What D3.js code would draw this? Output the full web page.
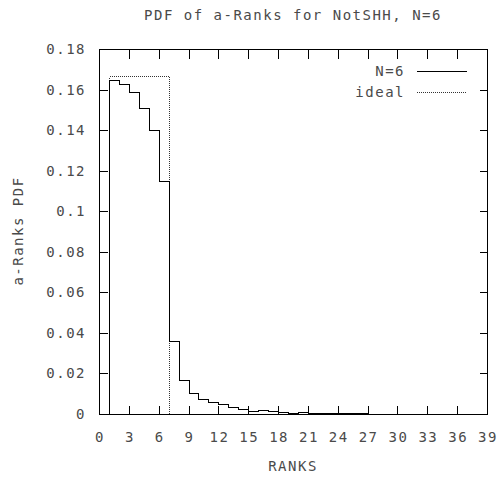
<!DOCTYPE html>
<html>
<head>
<meta charset="utf-8">
<script src="https://cdn.jsdelivr.net/npm/d3@7"></script>
<style>
  html, body { margin: 0; padding: 0; background: #fff; }
  svg text { font-family: "DejaVu Sans Mono", monospace; font-size: 14px; letter-spacing: 1.5px; fill: #4a4a4a; }
</style>
</head>
<body>
<svg id="chart" width="502" height="480"></svg>
<script>
// Rank bins (left edge of each unit-wide step) and their probabilities
const ranks = [1, 2, 3, 4, 5, 6, 7, 8, 9, 10, 11, 12, 13, 14, 15, 16, 17, 18, 19, 20, 21, 22, 23, 24, 25, 26];
const pdf = [0.1647, 0.1626, 0.1589, 0.1508, 0.1401, 0.1151, 0.0362, 0.0169, 0.0102, 0.0075,
             0.0060, 0.0047, 0.0036, 0.0025, 0.0015, 0.0020, 0.0015, 0.0009, 0.0006, 0.0011,
             0.0007, 0.0005, 0.0005, 0.0005, 0.0005, 0.0005];
// Ideal distribution: uniform over ranks 1..6
const idealRanks = [1, 2, 3, 4, 5, 6];
const idealPdf = [1 / 6, 1 / 6, 1 / 6, 1 / 6, 1 / 6, 1 / 6];

const xTicks = [0, 3, 6, 9, 12, 15, 18, 21, 24, 27, 30, 33, 36, 39];
const yTicks = [0, 0.02, 0.04, 0.06, 0.08, 0.1, 0.12, 0.14, 0.16, 0.18];
const yTickLabels = ["0", "0.02", "0.04", "0.06", "0.08", "0.1", "0.12", "0.14", "0.16", "0.18"];

const title = "PDF of a-Ranks for NotSHH, N=6";
const xTitle = "RANKS";
const yTitle = "a-Ranks PDF";
const seriesNames = ["N=6", "ideal"];

const svg = d3.select("#chart");
const plotLeft = 99, plotRight = 487, plotTop = 49, plotBottom = 414;

const x = d3.scaleLinear().domain([0, 39]).range([plotLeft, plotRight]);
const y = d3.scaleLinear().domain([0, 0.18]).range([plotBottom, plotTop]);
const px = v => Math.round(v) + 0.5;

// step outline: rises at the first bin, runs across each unit bin, drops at the end
function stepPoints(xs, vs) {
  const pts = [[xs[0], 0]];
  xs.forEach((r, i) => { pts.push([r, vs[i]]); pts.push([r + 1, vs[i]]); });
  pts.push([xs[xs.length - 1] + 1, 0]);
  return pts;
}
const line = d3.line().x(d => px(x(d[0]))).y(d => px(y(d[1])));

// ticks (inward, mirrored on opposite sides)
const g = svg.append("g").attr("stroke", "#000").attr("stroke-width", 1).attr("shape-rendering", "crispEdges");
xTicks.forEach(t => {
  g.append("line").attr("x1", px(x(t))).attr("x2", px(x(t))).attr("y1", px(y(0))).attr("y2", px(y(0)) - 9);
  g.append("line").attr("x1", px(x(t))).attr("x2", px(x(t))).attr("y1", px(y(0.18))).attr("y2", px(y(0.18)) + 9);
});
yTicks.forEach(t => {
  g.append("line").attr("x1", px(x(0))).attr("x2", px(x(0)) + 8).attr("y1", px(y(t))).attr("y2", px(y(t)));
  g.append("line").attr("x1", px(x(39))).attr("x2", px(x(39)) - 8).attr("y1", px(y(t))).attr("y2", px(y(t)));
});

// ideal (dotted)
svg.append("path")
  .attr("d", line(stepPoints(idealRanks, idealPdf)))
  .attr("fill", "none").attr("stroke", "#333").attr("stroke-width", 1)
  .attr("stroke-dasharray", "1,1").attr("shape-rendering", "crispEdges");

// measured distribution (solid)
svg.append("path")
  .attr("d", line(stepPoints(ranks, pdf)))
  .attr("fill", "none").attr("stroke", "#000").attr("stroke-width", 1)
  .attr("shape-rendering", "crispEdges");

// frame
svg.append("rect")
  .attr("x", px(x(0))).attr("y", px(y(0.18)))
  .attr("width", Math.round(x(39)) - Math.round(x(0)))
  .attr("height", Math.round(y(0)) - Math.round(y(0.18)))
  .attr("fill", "none").attr("stroke", "#000").attr("shape-rendering", "crispEdges");

// tick labels
xTicks.forEach(t => {
  svg.append("text").attr("x", x(t) + 1).attr("y", 442).attr("text-anchor", "middle").text(t);
});
yTicks.forEach((t, i) => {
  svg.append("text").attr("x", 86).attr("y", y(t) + 5).attr("text-anchor", "end").text(yTickLabels[i]);
});

// titles
svg.append("text").attr("x", 293).attr("y", 20).attr("text-anchor", "middle").text(title);
svg.append("text").attr("x", 293).attr("y", 471).attr("text-anchor", "middle").text(xTitle);
svg.append("text").attr("transform", "translate(23,231) rotate(-90)").attr("text-anchor", "middle").text(yTitle);

// legend
const legY = [71, 92];
seriesNames.forEach((name, i) => {
  svg.append("text").attr("x", 405).attr("y", legY[i] + 5).attr("text-anchor", "end").text(name);
  svg.append("line")
    .attr("x1", 417).attr("x2", 467).attr("y1", legY[i] + 0.5).attr("y2", legY[i] + 0.5)
    .attr("stroke", i === 0 ? "#000" : "#333")
    .attr("stroke-dasharray", i === 0 ? null : "1,1")
    .attr("shape-rendering", "crispEdges");
});
</script>
</body>
</html>
